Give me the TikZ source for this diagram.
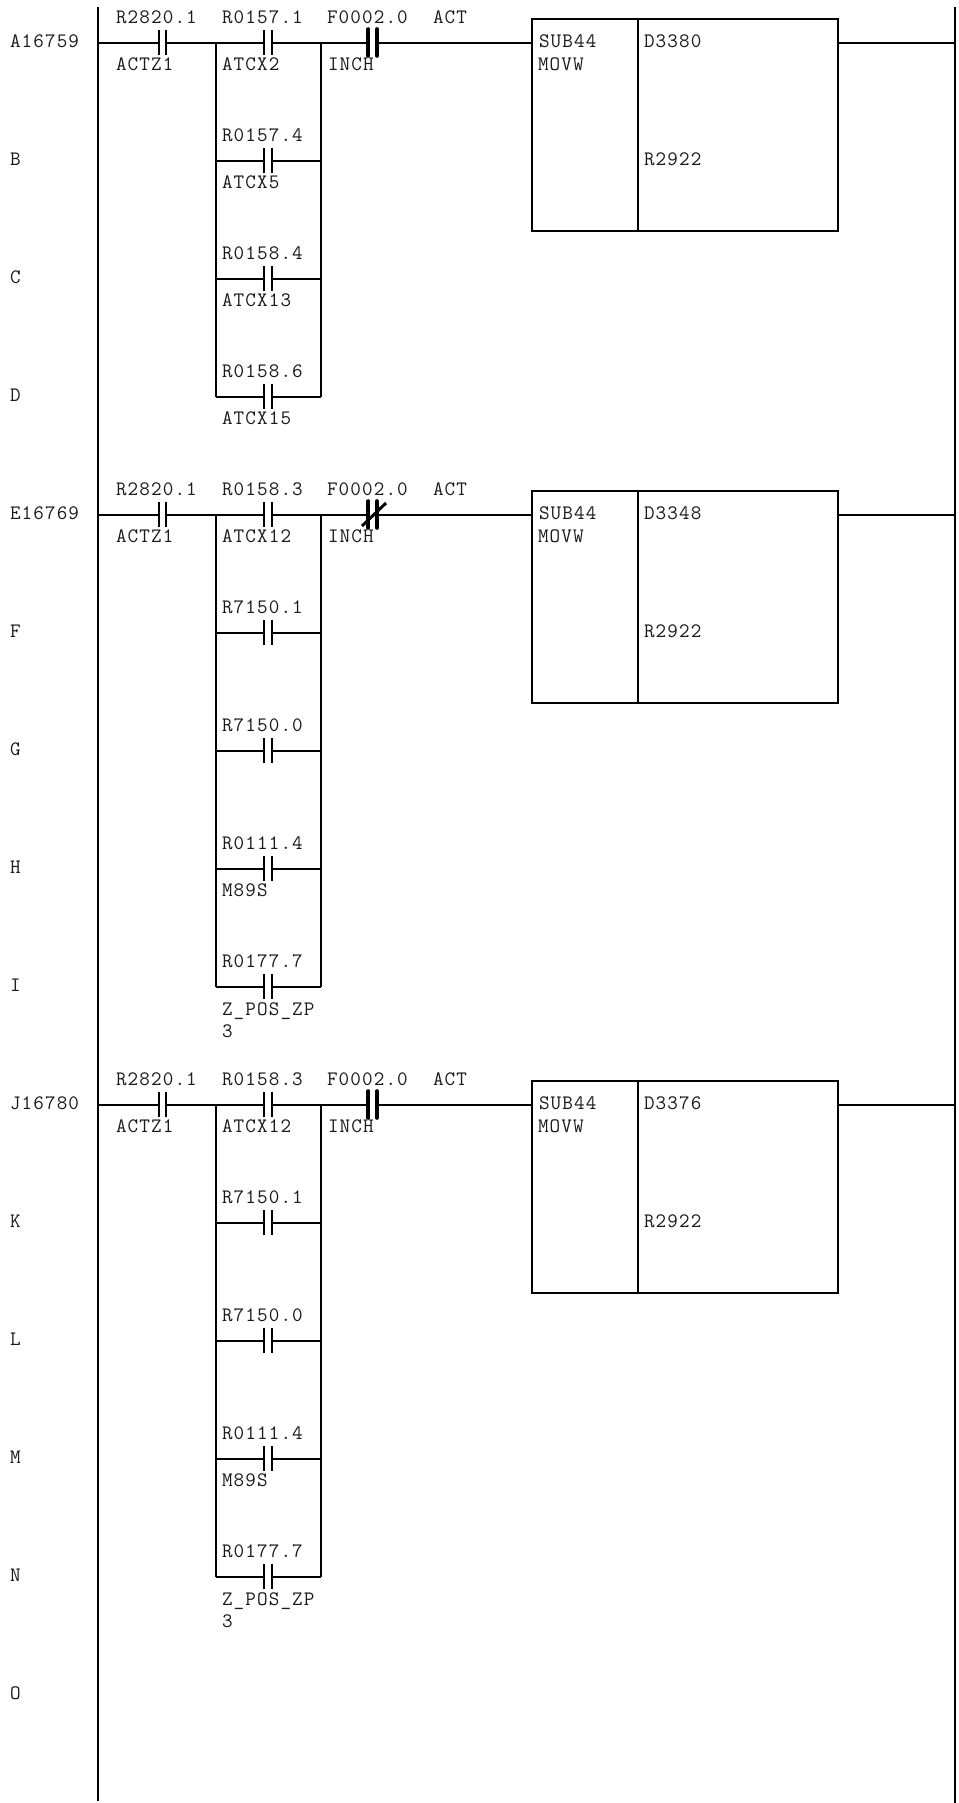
\documentclass[tikz,border=0pt]{standalone}
\usepackage{fontspec}
\newfontfamily\lblfont[LetterSpace=5.5]{Latin Modern Mono}
\definecolor{ink}{HTML}{1A1A1A}
\tikzset{
  lbl/.style={anchor=base west,inner sep=0pt,outer sep=0pt,text=ink,font=\lblfont\fontsize{15.4pt}{16pt}\selectfont},
  wire/.style={line width=1.5pt,black},
  plate/.style={line width=1.5pt,black},
  thickplate/.style={line width=3pt,black,line cap=round},
  nocontact/.style={inner sep=0pt,outer sep=0pt,minimum width=5.6pt,minimum height=18.4pt},
  thcontact/.style={inner sep=0pt,outer sep=0pt,minimum width=6.4pt,minimum height=20pt},
}
\newcommand{\normcontact}[3]{%
  \node[nocontact] (#1) at (#2,#3) {};
  \draw[plate] (#1.north west) -- (#1.south west) (#1.north east) -- (#1.south east);
}
\newcommand{\heavycontact}[3]{%
  \node[thcontact] (#1) at (#2,#3) {};
  \draw[thickplate] (#1.north west) -- (#1.south west) (#1.north east) -- (#1.south east);
}
\begin{document}
\begin{tikzpicture}[x=0.75pt,y=-0.75pt]
\useasboundingbox (0,0) rectangle (958,1803);
\fill[white] (0,0) rectangle (958,1803);
% rails
\coordinate (railLT) at (98,7);
\coordinate (railLB) at (98,1801);
\coordinate (railRT) at (955,7);
\coordinate (railRB) at (955,1803);
\draw[wire] (railLT) -- (railLB);
\draw[wire] (railRT) -- (railRB);
% row labels
\foreach \name/\yy in {A16759/42.5,B/160.5,C/278.5,D/396.5,E16769/514.5,F/632.5,G/750.5,H/868.5,I/986.5,J16780/1104.5,K/1222.5,L/1340.5,M/1458.5,N/1576.5,O/1694.5}
  \node[lbl] (row\name) at (10,\yy+5) {\name};
% three networks
\foreach \k/\r/\ra/\lastrow/\topb in {1/42.5/R0157.1/396.5/D3380,2/514.5/R0158.3/986.5/D3348,3/1104.5/R0158.3/1576.5/D3376}{
  \coordinate (railL\k) at (98,\r);
  \coordinate (railR\k) at (955,\r);
  \coordinate (jL\k) at (216,\r);
  \coordinate (jR\k) at (321,\r);
  \coordinate (jLe\k) at (216,\lastrow);
  \coordinate (jRe\k) at (321,\lastrow);
  \normcontact{c1\k}{162.5}{\r}
  \normcontact{c2\k}{268}{\r}
  \heavycontact{c3\k}{372.7}{\r}
  \node[lbl] (t1\k) at (116,\r-19.5) {R2820.1};
  \node[lbl] (b1\k) at (116,\r+27.5) {ACTZ1};
  \node[lbl] (t2\k) at (222,\r-19.5) {\ra};
  \node[lbl] (t3\k) at (327,\r-19.5) {F0002.0};
  \node[lbl] (t4\k) at (433,\r-19.5) {ACT};
  \node[lbl] (b3\k) at (328,\r+27.5) {INCH};
  % box
  \coordinate (bTL\k) at (532,\r-23.5);
  \coordinate (bTM\k) at (638,\r-23.5);
  \coordinate (bBM\k) at (638,\r+188.5);
  \coordinate (bBR\k) at (838,\r+188.5);
  \coordinate (bIn\k) at (532,\r);
  \coordinate (bOut\k) at (838,\r);
  \draw[wire] (bTL\k) rectangle (bBR\k);
  \draw[wire] (bTM\k) -- (bBM\k);
  \draw[wire] (railL\k) -- (c1\k.west);
  \draw[wire] (c1\k.east) -- (jL\k) -- (c2\k.west);
  \draw[wire] (c2\k.east) -- (jR\k) -- (c3\k.west);
  \draw[wire] (c3\k.east) -- (bIn\k);
  \draw[wire] (bOut\k) -- (railR\k);
  \draw[wire] (jL\k) -- (jLe\k);
  \draw[wire] (jR\k) -- (jRe\k);
  \node[lbl] (sub\k) at (539,\r+5) {SUB44};
  \node[lbl] (mov\k) at (538,\r+27.5) {MOVW};
  \node[lbl] (dd\k) at (644,\r+5) {\topb};
  \node[lbl] (rr\k) at (644,\r+123) {R2922};
}
% slash on the normally-closed contact
\coordinate (slA) at (362,526);
\coordinate (slB) at (386,503);
\draw[line width=2.2pt] (slA) -- (slB);
% branches
\foreach \id/\yy/\tp in {B/160.5/R0157.4,C/278.5/R0158.4,F/632.5/R7150.1,G/750.5/R7150.0,K/1222.5/R7150.1,L/1340.5/R7150.0,H/868.5/R0111.4,M/1458.5/R0111.4,D/396.5/R0158.6,I/986.5/R0177.7,N/1576.5/R0177.7}{
  \coordinate (bl\id) at (216,\yy);
  \coordinate (br\id) at (321,\yy);
  \normcontact{bc\id}{268}{\yy}
  \draw[wire] (bl\id) -- (bc\id.west);
  \draw[wire] (bc\id.east) -- (br\id);
  \node[lbl] (bt\id) at (222,\yy-19) {\tp};
}
\foreach \id/\yy/\tx in {top1/42.5/ATCX2,top2/514.5/ATCX12,top3/1104.5/ATCX12,B/160.5/ATCX5,C/278.5/ATCX13,D/396.5/ATCX15,H/868.5/M89S,M/1458.5/M89S}
  \node[lbl] (bb\id) at (222,\yy+27.5) {\tx};
\foreach \id/\yy in {I/986.5,N/1576.5}{
  \node[lbl] (zp\id) at (222,\yy+28.5) {Z\_POS\_ZP};
  \node[lbl] (zq\id) at (222,\yy+51) {3};
}
\end{tikzpicture}
\end{document}
